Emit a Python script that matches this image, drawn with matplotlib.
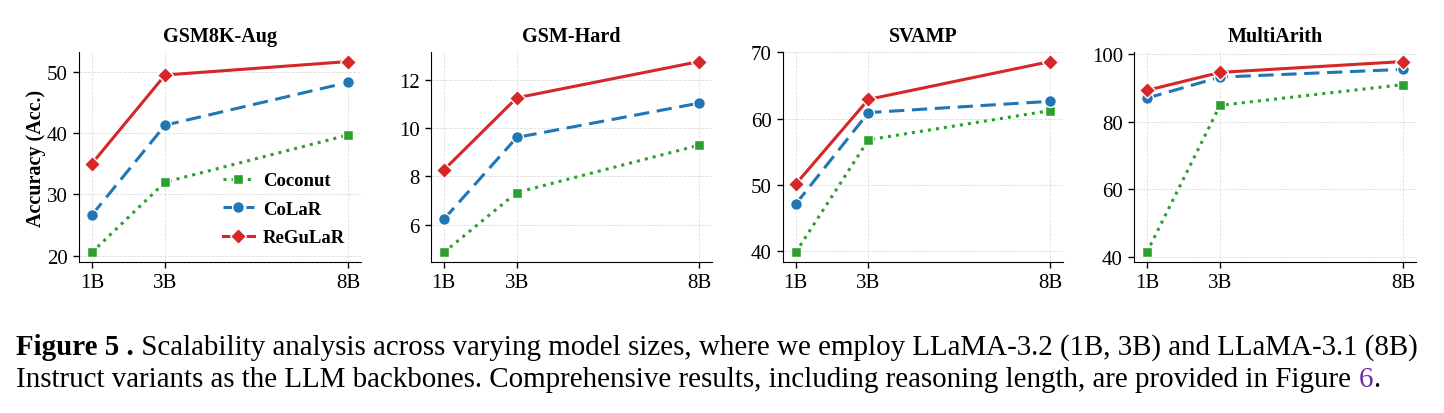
import matplotlib
matplotlib.use("Agg")
import matplotlib.pyplot as plt

plt.rcParams['font.family'] = ['Liberation Serif', 'DejaVu Serif']

# data
sizes = [1, 3, 8]
size_labels = ["1B", "3B", "8B"]
datasets = ["GSM8K-Aug", "GSM-Hard", "SVAMP", "MultiArith"]

coconut = [
    [20.5, 32.0, 39.7],
    [4.85, 7.33, 9.29],
    [39.8, 56.8, 61.2],
    [41.4, 84.8, 90.9],
]
colar = [
    [26.6, 41.3, 48.3],
    [6.22, 9.61, 11.03],
    [47.1, 60.9, 62.6],
    [86.9, 93.1, 95.4],
]
regular = [
    [35.0, 49.5, 51.7],
    [8.26, 11.25, 12.75],
    [50.1, 62.9, 68.6],
    [89.2, 94.5, 97.7],
]
yticks = [
    [20, 30, 40, 50],
    [6, 8, 10, 12],
    [40, 50, 60, 70],
    [40, 60, 80, 100],
]

W, H = 1444, 414
fig = plt.figure(figsize=(W / 100, H / 100), dpi=100)

# axes left/right edges in pixels
lefts = [79, 431, 783, 1134]
rights = [361, 712, 1063, 1416]
top_px, bot_px = 53, 263

for i in range(4):
    ax = fig.add_axes([lefts[i] / W, 1 - bot_px / H,
                       (rights[i] - lefts[i]) / W, (bot_px - top_px) / H])
    ax.plot(sizes, coconut[i], color="#2ca02c", ls=":", lw=2.2, marker="s",
            ms=7.5, mec="white", mew=1, label="Coconut")
    ax.plot(sizes, colar[i], color="#1f77b4", ls="--", lw=2.2, marker="o",
            ms=8.5, mec="white", mew=1, label="CoLaR", dashes=(5, 2.5))
    ax.plot(sizes, regular[i], color="#d62728", ls="-", lw=2.2, marker="D",
            ms=8, mec="white", mew=1, label="ReGuLaR")
    ax.set_xticks(sizes)
    ax.set_xticklabels(size_labels)
    ax.set_yticks(yticks[i])
    ax.tick_params(labelsize=15, length=4, width=1, pad=4)
    ax.grid(True, ls="--", lw=0.6, color="#dddddd")
    ax.set_axisbelow(True)
    ax.spines["top"].set_visible(False)
    ax.spines["right"].set_visible(False)
    ax.set_title(datasets[i], fontsize=14.5, fontweight="bold", pad=8)
    if i == 0:
        ax.set_ylabel("Accuracy (Acc.)", fontsize=14.5, fontweight="bold", labelpad=1)
        ax.legend(loc="lower right", frameon=False, prop={"weight": "bold", "size": 13.5},
                  handlelength=1.7, borderaxespad=0.45, labelspacing=0.6,
                  handletextpad=0.45)

# caption below the panels
cap_size = 20.9
fig.canvas.draw()
rend = fig.canvas.get_renderer()


def put_line(pieces, x0, y_px):
    x = x0
    for txt, weight, color in pieces:
        t = fig.text(x / W, 1 - y_px / H, txt, fontsize=cap_size, fontweight=weight,
                     color=color, va="baseline", ha="left")
        x = t.get_window_extent(rend).x1


put_line([("Figure 5 .", "bold", "black"),
          (" Scalability analysis across varying model sizes, where we employ "
           "LLaMA-3.2 (1B, 3B) and LLaMA-3.1 (8B)", "normal", "black")], 16, 355)
put_line([("Instruct variants as the LLM backbones. Comprehensive results, including "
           "reasoning length, are provided in Figure ", "normal", "black"),
          ("6", "normal", "#6a2c9e"),
          (".", "normal", "black")], 16, 387)

fig.savefig("out.png", dpi=100)
